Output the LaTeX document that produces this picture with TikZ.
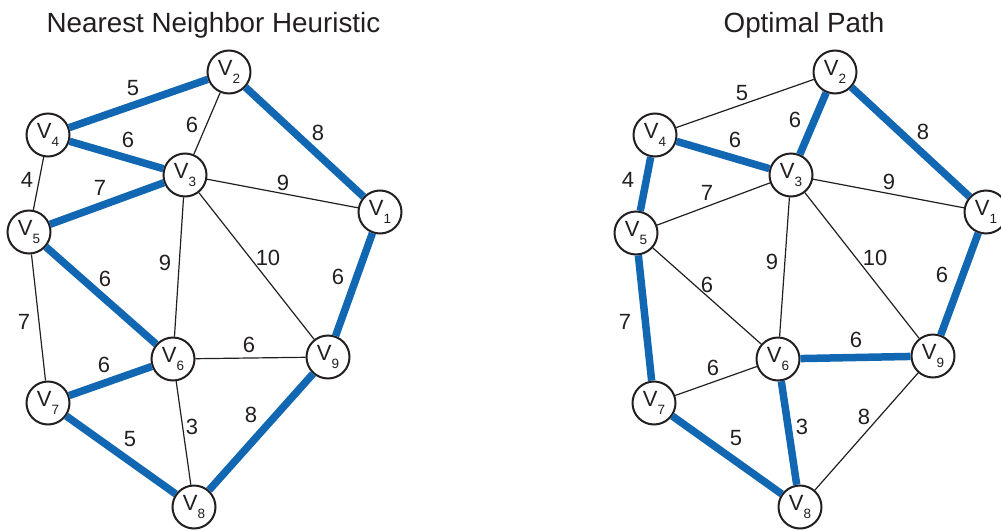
\documentclass[tikz,border=0pt]{standalone}
\usepackage{fontspec}
\setmainfont{Liberation Sans}
\definecolor{pathblue}{RGB}{17,103,178}
\definecolor{ink}{RGB}{35,31,32}
\newcommand{\vtx}[1]{V\raisebox{-8pt}{\fontsize{13.5}{13.5}\selectfont #1}}
\begin{document}
\begin{tikzpicture}[x=1pt,y=-1pt,
  vnode/.style={circle,draw=ink,line width=2pt,fill=white,minimum size=43pt,inner sep=0pt,text=ink,font=\fontsize{22}{22}\selectfont},
  thinedge/.style={draw=ink,line width=1.2pt},
  thickedge/.style={draw=pathblue,line width=7.5pt},
  wlabel/.style={inner sep=0pt,font=\fontsize{22}{22}\selectfont,text=ink},
  title/.style={inner sep=0pt,anchor=base,font=\fontsize{27.8}{27.8}\selectfont,text=ink}]
\useasboundingbox (0,0) rectangle (1001,530);
\node[title] (tL) at (213.5,32) {Nearest Neighbor Heuristic};
\node[title] (tR) at (804,32) {Optimal Path};
% ---------- left graph ----------
\node[vnode] (L1) at (380,212) {\vtx{1}};
\node[vnode] (L2) at (229,72) {\vtx{2}};
\node[vnode] (L3) at (185,175) {\vtx{3}};
\node[vnode] (L4) at (48,135) {\vtx{4}};
\node[vnode] (L5) at (29,232) {\vtx{5}};
\node[vnode] (L6) at (173,359) {\vtx{6}};
\node[vnode] (L7) at (48,403) {\vtx{7}};
\node[vnode] (L8) at (194,507) {\vtx{8}};
\node[vnode] (L9) at (328,357) {\vtx{9}};
\draw[thinedge] (L2) -- (L3);
\draw[thinedge] (L3) -- (L1);
\draw[thinedge] (L4) -- (L5);
\draw[thinedge] (L3) -- (L6);
\draw[thinedge] (L3) -- (L9);
\draw[thinedge] (L5) -- (L7);
\draw[thinedge] (L6) -- (L9);
\draw[thinedge] (L6) -- (L8);
\draw[thickedge] (L4) -- (L2);
\draw[thickedge] (L2) -- (L1);
\draw[thickedge] (L4) -- (L3);
\draw[thickedge] (L5) -- (L3);
\draw[thickedge] (L5) -- (L6);
\draw[thickedge] (L1) -- (L9);
\draw[thickedge] (L7) -- (L6);
\draw[thickedge] (L7) -- (L8);
\draw[thickedge] (L9) -- (L8);
\node[wlabel] (la) at (133,88) {5};
\node[wlabel] (lb) at (192,125) {6};
\node[wlabel] (lc) at (318,133) {8};
\node[wlabel] (ld) at (128,140) {6};
\node[wlabel] (le) at (27,180) {4};
\node[wlabel] (lf) at (100,188) {7};
\node[wlabel] (lg) at (283,183) {9};
\node[wlabel] (lh) at (165,263) {9};
\node[wlabel] (li) at (268,258) {10};
\node[wlabel] (lj) at (338,277) {6};
\node[wlabel] (lk) at (105,279) {6};
\node[wlabel] (ll) at (24,322) {7};
\node[wlabel] (lm) at (249,345) {6};
\node[wlabel] (ln) at (104,365) {6};
\node[wlabel] (lo) at (192,427) {3};
\node[wlabel] (lp) at (251,415) {8};
\node[wlabel] (lq) at (130,439) {5};
% ---------- right graph ----------
\node[vnode] (R1) at (986,212) {\vtx{1}};
\node[vnode] (R2) at (835,72) {\vtx{2}};
\node[vnode] (R3) at (791,175) {\vtx{3}};
\node[vnode] (R4) at (655,135) {\vtx{4}};
\node[vnode] (R5) at (636,233) {\vtx{5}};
\node[vnode] (R6) at (778,359) {\vtx{6}};
\node[vnode] (R7) at (654,403) {\vtx{7}};
\node[vnode] (R8) at (800,507) {\vtx{8}};
\node[vnode] (R9) at (933,356) {\vtx{9}};
\draw[thinedge] (R4) -- (R2);
\draw[thinedge] (R3) -- (R1);
\draw[thinedge] (R5) -- (R3);
\draw[thinedge] (R3) -- (R6);
\draw[thinedge] (R3) -- (R9);
\draw[thinedge] (R5) -- (R6);
\draw[thinedge] (R7) -- (R6);
\draw[thinedge] (R9) -- (R8);
\draw[thickedge] (R2) -- (R3);
\draw[thickedge] (R2) -- (R1);
\draw[thickedge] (R4) -- (R3);
\draw[thickedge] (R4) -- (R5);
\draw[thickedge] (R5) -- (R7);
\draw[thickedge] (R1) -- (R9);
\draw[thickedge] (R6) -- (R9);
\draw[thickedge] (R7) -- (R8);
\draw[thickedge] (R6) -- (R8);
\node[wlabel] (ra) at (742,93) {5};
\node[wlabel] (rb) at (795,120) {6};
\node[wlabel] (rc) at (923,132) {8};
\node[wlabel] (rd) at (735,140) {6};
\node[wlabel] (re) at (628,180) {4};
\node[wlabel] (rf) at (707,193) {7};
\node[wlabel] (rg) at (889,182) {9};
\node[wlabel] (rh) at (772,262) {9};
\node[wlabel] (ri) at (875,258) {10};
\node[wlabel] (rj) at (942,275) {6};
\node[wlabel] (rk) at (707,285) {6};
\node[wlabel] (rl) at (625,322) {7};
\node[wlabel] (rm) at (856,340) {6};
\node[wlabel] (rn) at (713,368) {6};
\node[wlabel] (ro) at (802,427) {3};
\node[wlabel] (rp) at (864,417) {8};
\node[wlabel] (rq) at (736,438) {5};
\end{tikzpicture}
\end{document}
